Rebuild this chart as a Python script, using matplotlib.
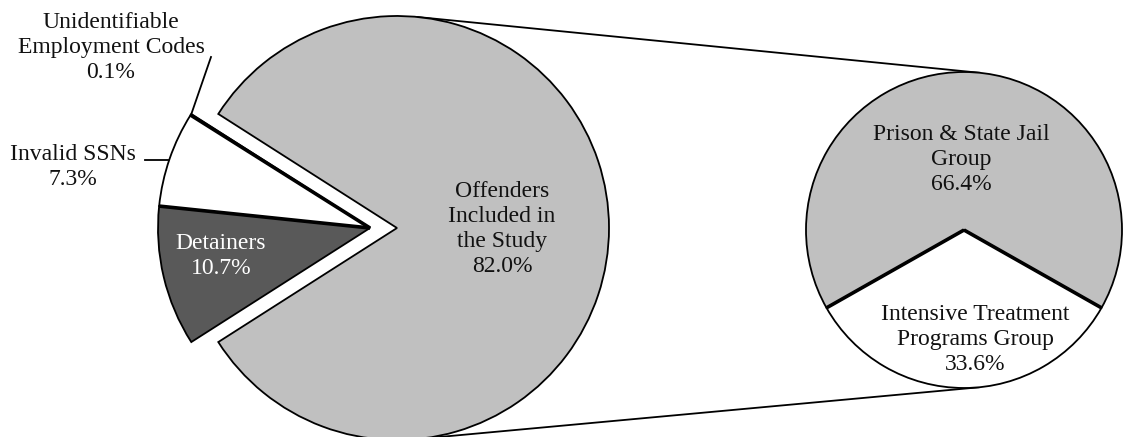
import numpy as np
import matplotlib.pyplot as plt

plt.rcParams['font.family'] = ['Liberation Serif', 'DejaVu Serif']

# main pie: study group first, then the excluded records (counter-clockwise)
main_labels = ['Offenders\nIncluded in\nthe Study', 'Unidentifiable\nEmployment Codes',
               'Invalid SSNs', 'Detainers']
main_vals = [82.0, 0.1, 7.3, 10.7]
main_colors = ['#C0C0C0', 'white', 'white', '#595959']

# breakdown of the study group
sub_labels = ['Prison & State Jail\nGroup', 'Intensive Treatment\nPrograms Group']
sub_vals = [66.4, 33.6]
sub_colors = ['#C0C0C0', 'white']

W, H = 1123, 437
fig = plt.figure(figsize=(W / 100, H / 100), dpi=100)
ax = fig.add_axes([0, 0, 1, 1])

c1, r1 = np.array([397.0, 209.0]), 212.0
c2, r2 = np.array([964.0, 207.0]), 158.0
shift = 27.0

# study slice is centred on the right-hand side
start1 = -0.5 * main_vals[0] / sum(main_vals) * 360
w1, _ = ax.pie(main_vals, colors=main_colors, startangle=start1, center=tuple(c1),
               radius=r1, wedgeprops=dict(edgecolor='black', linewidth=1.3))
# excluded slices pulled out together
for w in w1[1:]:
    w.set_center((c1[0] - shift, c1[1]))

start2 = 270 + 0.5 * sub_vals[1] / sum(sub_vals) * 360
w2, _ = ax.pie(sub_vals, colors=sub_colors, startangle=start2, center=tuple(c2),
               radius=r2, wedgeprops=dict(edgecolor='black', linewidth=1.3))


def edge(center, r, ang, lw):
    a = np.deg2rad(ang)
    ax.plot([center[0], center[0] + r * np.cos(a)], [center[1], center[1] + r * np.sin(a)],
            color='black', lw=lw, solid_capstyle='butt', zorder=3)


for w in w1[2:]:
    edge(w.center, r1, w.theta1, 2.6)
edge(w2[1].center, r2, w2[1].theta1, 2.6)
edge(w2[1].center, r2, w2[1].theta2, 2.6)

# connectors: outer tangents of the two circles
d = c2 - c1
D = np.hypot(*d)
u = d / D
perp = np.array([-u[1], u[0]])
ct = (r1 - r2) / D
st = np.sqrt(1 - ct ** 2)
for sgn in (1, -1):
    n = u * ct + sgn * perp * st
    p1, p2 = c1 + r1 * n, c2 + r2 * n
    ax.plot([p1[0], p2[0]], [p1[1], p2[1]], color='black', lw=1.3, zorder=0)

fs = 17
ls = 1.25
ax.text(502, H - 229, f'{main_labels[0]}\n{main_vals[0]:.1f}%', ha='center', va='center',
        fontsize=fs, linespacing=ls, color='#111111')
ax.text(221, H - 256, f'{main_labels[3]}\n{main_vals[3]:.1f}%', ha='center', va='center',
        fontsize=fs, linespacing=ls, color='white')
ax.text(73, H - 167, f'{main_labels[2]}\n{main_vals[2]:.1f}%', ha='center', va='center',
        fontsize=fs, linespacing=ls, color='#111111')
ax.text(111, H - 48, f'{main_labels[1]}\n{main_vals[1]:.1f}%', ha='center', va='center',
        fontsize=fs, linespacing=ls, color='#111111')
ax.text(961, H - 160, f'{sub_labels[0]}\n{sub_vals[0]:.1f}%', ha='center', va='center',
        fontsize=fs, linespacing=ls, color='#111111')
ax.text(975, H - 340, f'{sub_labels[1]}\n{sub_vals[1]:.1f}%', ha='center', va='center',
        fontsize=fs, linespacing=ls, color='#111111')

# leader lines for the outside labels
ax.plot([211, 191], [H - 57, H - 115], color='black', lw=1.3)
ax.plot([145, 168], [H - 160, H - 160], color='black', lw=1.3)

ax.set_xlim(0, W)
ax.set_ylim(0, H)
ax.set_aspect('equal')
ax.axis('off')

fig.savefig('out.png', dpi=100)
